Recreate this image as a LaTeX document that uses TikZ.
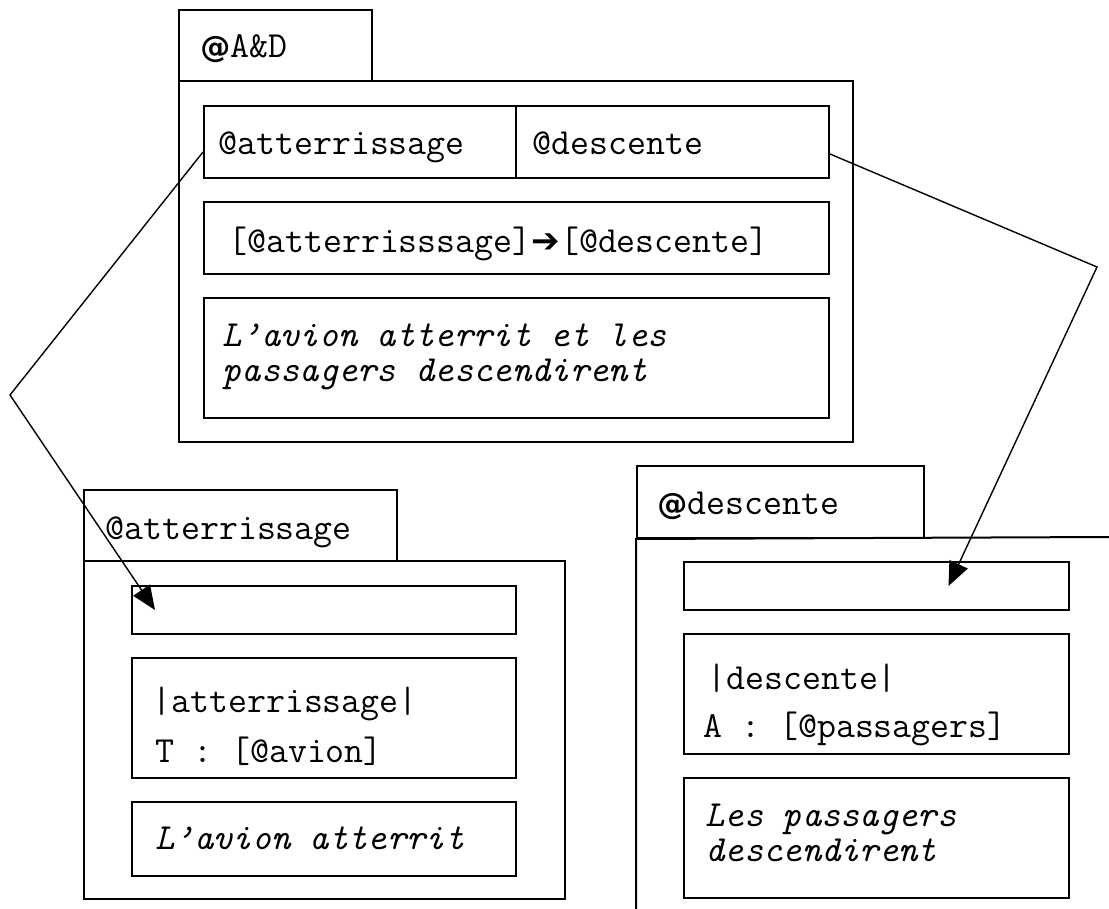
\documentclass[tikz,border=0pt]{standalone}
\usepackage{fontspec}
\newfontfamily\symbolfont{DejaVu Sans}
\usetikzlibrary{arrows.meta}

\tikzset{
  box/.style={draw, line width=1pt, anchor=north west, inner sep=0pt},
  lbl/.style={anchor=base west, inner sep=0pt, font=\ttfamily\fontsize{18.4}{20}\selectfont},
  gloss/.style={lbl, font=\ttfamily\itshape\fontsize{18.4}{20}\selectfont},
  link/.style={line width=0.7pt, -{Triangle[length=12pt,width=10pt]}}
}
\newcommand{\boldat}{{\symbolfont\bfseries\fontsize{15}{20}\selectfont @}}

\begin{document}
\begin{tikzpicture}[x=0.5pt,y=-0.5pt]
\useasboundingbox (0,0) rectangle (1109,909);

% frame @A&D
\node[box, minimum width=96.5pt, minimum height=35.5pt] (tabAD) at (178,9) {};
\node[box, minimum width=337pt, minimum height=180.5pt] (frameAD) at (178,80) {};
\node[box, minimum width=156pt, minimum height=36pt] (cellAtr) at (203,105) {};
\node[box, minimum width=156.5pt, minimum height=36pt] (cellDesc) at (515,105) {};
\node[box, minimum width=312.5pt, minimum height=36pt] (seqAD) at (203,201) {};
\node[box, minimum width=312.5pt, minimum height=60pt] (glossAD) at (203,297) {};
\node[lbl] (tAD) at (200,58) {\boldat A\&D};
\node[lbl] (tAtr) at (218,155) {@atterrissage};
\node[lbl] (tDesc) at (532,155) {@descente};
\node[lbl] (tSeq) at (228,253) {[@atterrisssage]{\symbolfont\bfseries\fontsize{17}{20}\selectfont ➔}[@descente]};
\node[gloss] (gAD1) at (222,347) {L’avion atterrit et les};
\node[gloss] (gAD2) at (222,381) {passagers descendirent};

% frame @atterrissage
\node[box, minimum width=156.5pt, minimum height=35.5pt] (tabAtr) at (83,489) {};
\node[box, minimum width=240.5pt, minimum height=169pt] (frameAtr) at (83,560) {};
\node[box, minimum width=192pt, minimum height=24pt] (slotAtr) at (131,585) {};
\node[box, minimum width=192pt, minimum height=60pt] (predAtr) at (131,657) {};
\node[box, minimum width=192pt, minimum height=37pt] (glossAtr) at (131,801) {};
\node[lbl] (tTabAtr) at (105,539) {@atterrissage};
\node[lbl] (tPredAtr) at (152,712) {|atterrissage|};
\node[lbl] (tArgAtr) at (155,762) {T : [@avion]};
\node[gloss] (gAtr) at (155,849) {L’avion atterrit};

% frame @descente
\node[box, minimum width=143.5pt, minimum height=36pt] (tabDesc) at (636,465) {};
\draw[line width=1pt] (1109,537) -- (tabDesc.south west) -- (636,909);
\node[box, minimum width=192.5pt, minimum height=24pt] (slotDesc) at (683,561) {};
\node[box, minimum width=192.5pt, minimum height=60pt] (predDesc) at (683,633) {};
\node[box, minimum width=192.5pt, minimum height=60pt] (glossDesc) at (683,777) {};
\node[lbl] (tTabDesc) at (657,514) {\boldat descente};
\node[lbl] (tPredDesc) at (707,689) {|descente|};
\node[lbl] (tArgDesc) at (703,737) {A : [@passagers]};
\node[gloss] (gDesc1) at (705,826) {Les passagers};
\node[gloss] (gDesc2) at (705,861) {descendirent};

% links
\coordinate (bendL) at (10,395);
\coordinate (bendR) at (1097,267);
\draw[link] ([yshift=-5pt]cellAtr.west) -- (bendL) -- ([xshift=12pt]slotAtr.west);
\draw[link] ([yshift=-6pt]cellDesc.east) -- (bendR) -- ([xshift=36pt]slotDesc.center);
\end{tikzpicture}
\end{document}
